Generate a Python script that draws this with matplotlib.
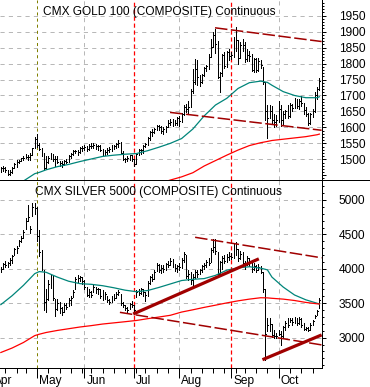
import numpy as np
import pandas as pd
import matplotlib
matplotlib.use("Agg")
import matplotlib.pyplot as plt
from matplotlib.lines import Line2D
from matplotlib.ticker import FixedLocator, FixedFormatter, NullFormatter

plt.rcParams['font.family'] = ['Liberation Sans', 'DejaVu Sans']
plt.rcParams['lines.scale_dashes'] = False

# ---------------- data ----------------
holidays = ['2011-04-22', '2011-05-30', '2011-07-04', '2011-09-05']
start_date, end_date = '2011-04-07', '2011-10-27'

gold_title = "CMX GOLD 100 (COMPOSITE) Continuous"
silver_title = "CMX SILVER 5000 (COMPOSITE) Continuous"
month_labels = ['Apr', 'May', 'Jun', 'Jul', 'Aug', 'Sep', 'Oct']

gold_high = [
    1476, 1478, 1476, 1468, 1465, 1476, 1487, 1497, 1497, 1505, 1509, 1518, 1512, 1520, 1536, 1570,  # Apr
    1580, 1550, 1534, 1519, 1510, 1510, 1521, 1518, 1509, 1510, 1496, 1494, 1499, 1501, 1512, 1521,
    1528, 1530, 1528, 1538, 1542,  # May
    1546, 1541, 1548, 1551, 1550, 1548, 1545, 1545, 1532, 1530, 1535, 1538, 1544, 1545, 1550, 1560,
    1555, 1526, 1505, 1509, 1514, 1512,  # Jun
    1502, 1518, 1531, 1532, 1545, 1551, 1571, 1588, 1594, 1597, 1609, 1608, 1603, 1600, 1605, 1624,
    1625, 1626, 1622, 1633,  # Jul
    1636, 1646, 1669, 1672, 1684, 1720, 1782, 1815, 1812, 1764, 1768, 1789, 1795, 1829, 1877, 1898,
    1908, 1871, 1775, 1831, 1835, 1840, 1847,  # Aug
    1836, 1884, 1914, 1875, 1868, 1876, 1866, 1846, 1840, 1830, 1816, 1817, 1816, 1812, 1790, 1743,
    1670, 1670, 1668, 1641, 1638,  # Sep
    1684, 1671, 1651, 1656, 1669, 1677, 1673, 1692, 1688, 1690, 1698, 1677, 1663, 1644, 1644, 1658,
    1710, 1726, 1756,  # Oct
]
gold_low = [
    1461, 1464, 1460, 1451, 1452, 1457, 1472, 1477, 1487, 1494, 1498, 1504, 1499, 1498, 1513, 1535,
    1540, 1528, 1509, 1465, 1469, 1490, 1501, 1496, 1478, 1488, 1479, 1477, 1482, 1487, 1493, 1505,
    1513, 1520, 1515, 1521, 1527,
    1530, 1526, 1529, 1536, 1537, 1533, 1530, 1526, 1512, 1512, 1518, 1524, 1526, 1532, 1537, 1540,
    1517, 1497, 1491, 1494, 1498, 1495,
    1480, 1484, 1512, 1516, 1520, 1539, 1546, 1561, 1574, 1581, 1591, 1591, 1582, 1578, 1587, 1600,
    1608, 1605, 1606, 1608,
    1605, 1616, 1639, 1648, 1641, 1664, 1707, 1737, 1733, 1730, 1738, 1762, 1778, 1784, 1820, 1852,
    1832, 1756, 1712, 1760, 1787, 1788, 1812,
    1813, 1822, 1840, 1798, 1818, 1839, 1806, 1809, 1808, 1777, 1775, 1772, 1776, 1785, 1735, 1623,
    1567, 1628, 1615, 1602, 1603,
    1618, 1605, 1612, 1630, 1630, 1633, 1652, 1660, 1660, 1659, 1668, 1643, 1635, 1608, 1612, 1632,
    1648, 1690, 1718,
]
gold_close = [
    1472, 1474, 1466, 1455, 1460, 1474, 1486, 1492, 1495, 1503, 1505, 1508, 1507, 1515, 1535, 1563,
    1545, 1532, 1515, 1474, 1492, 1503, 1516, 1502, 1502, 1492, 1489, 1485, 1496, 1493, 1510, 1516,
    1526, 1526, 1524, 1536, 1536,
    1539, 1533, 1542, 1543, 1545, 1541, 1541, 1529, 1516, 1524, 1529, 1531, 1539, 1541, 1547, 1551,
    1521, 1500, 1500, 1503, 1512, 1500,
    1485, 1516, 1528, 1530, 1542, 1548, 1567, 1585, 1586, 1594, 1603, 1600, 1589, 1596, 1601, 1615,
    1617, 1615, 1614, 1628,
    1621, 1643, 1664, 1658, 1663, 1713, 1743, 1784, 1759, 1742, 1765, 1785, 1792, 1822, 1852, 1891,
    1862, 1757, 1771, 1828, 1791, 1835, 1825,
    1828, 1876, 1873, 1817, 1858, 1857, 1815, 1827, 1825, 1779, 1813, 1779, 1808, 1795, 1742, 1650,
    1628, 1652, 1622, 1617, 1624,
    1659, 1624, 1642, 1650, 1635, 1670, 1662, 1683, 1666, 1683, 1676, 1653, 1641, 1615, 1642, 1652,
    1703, 1721, 1745,
]

silver_high = [
    4020, 4090, 4110, 4100, 4150, 4200, 4300, 4330, 4420, 4470, 4560, 4740, 4930, 4620, 4950, 4950,
    4900, 4560, 4280, 3990, 3700, 3840, 3910, 3900, 3560, 3560, 3520, 3450, 3500, 3500, 3570, 3600,
    3690, 3880, 3910, 3900, 3880,
    3840, 3740, 3700, 3680, 3760, 3740, 3720, 3700, 3690, 3660, 3610, 3560, 3610, 3630, 3660, 3690,
    3640, 3520, 3480, 3450, 3510, 3530,
    3480, 3690, 3700, 3720, 3710, 3660, 3820, 3900, 3930, 3980, 4080, 4070, 4050, 4060, 4090, 4110,
    4150, 4140, 4070, 4060,
    4090, 4150, 4250, 4200, 3990, 3960, 3920, 3990, 3980, 4000, 4060, 4090, 4130, 4150, 4300, 4430,
    4440, 4250, 4120, 4180, 4200, 4220, 4240,
    4230, 4380, 4390, 4290, 4260, 4240, 4120, 4180, 4160, 4090, 4080, 4060, 4070, 4040, 3950, 3700,
    3290, 3280, 3200, 3110, 3070,
    3110, 3100, 3170, 3240, 3280, 3280, 3290, 3300, 3290, 3300, 3280, 3210, 3160, 3160, 3210, 3260,
    3330, 3400, 3570,
]
silver_low = [
    3960, 4000, 4030, 4020, 4060, 4090, 4200, 4230, 4330, 4390, 4450, 4580, 4700, 4516, 4760, 4800,
    4400, 4180, 3980, 3400, 3380, 3550, 3720, 3540, 3310, 3400, 3360, 3330, 3380, 3410, 3460, 3480,
    3590, 3700, 3810, 3820, 3780,
    3700, 3600, 3590, 3590, 3660, 3650, 3640, 3580, 3550, 3560, 3520, 3490, 3520, 3540, 3580, 3620,
    3480, 3440, 3400, 3370, 3420, 3440,
    3340, 3590, 3620, 3640, 3600, 3530, 3600, 3780, 3820, 3850, 3970, 3950, 3940, 3950, 3990, 4020,
    4050, 4030, 3970, 3960,
    3980, 4010, 4100, 3860, 3840, 3780, 3740, 3860, 3880, 3920, 3960, 4000, 4020, 4050, 4100, 4250,
    4220, 3890, 3930, 4000, 4090, 4100, 4130,
    4140, 4160, 4200, 4120, 4140, 4060, 4000, 4060, 4040, 3960, 3980, 3950, 3980, 3940, 3660, 2680,
    3090, 3100, 3010, 2990, 2990,
    3040, 2890, 3010, 3110, 3160, 3230, 3190, 3210, 3190, 3200, 3160, 3110, 3110, 3090, 3110, 3190,
    3280, 3330, 3430,
]
silver_close = [
    4000, 4070, 4060, 4080, 4130, 4180, 4290, 4300, 4400, 4450, 4540, 4700, 4750, 4580, 4900, 4880,
    4480, 4250, 4020, 3520, 3560, 3780, 3880, 3580, 3420, 3500, 3430, 3370, 3480, 3450, 3550, 3580,
    3670, 3850, 3860, 3880, 3820,
    3730, 3620, 3660, 3620, 3740, 3700, 3700, 3600, 3580, 3640, 3540, 3520, 3590, 3580, 3640, 3660,
    3500, 3470, 3430, 3400, 3490, 3480,
    3400, 3660, 3650, 3700, 3660, 3620, 3790, 3880, 3850, 3960, 4060, 3990, 4010, 4000, 4070, 4060,
    4120, 4050, 4010, 4040,
    4020, 4130, 4210, 3900, 3920, 3840, 3880, 3960, 3930, 3980, 4040, 4050, 4100, 4080, 4270, 4320,
    4260, 3920, 4100, 4150, 4120, 4170, 4180,
    4170, 4340, 4290, 4160, 4220, 4080, 4090, 4150, 4100, 4000, 4040, 3990, 4030, 3960, 3700, 3050,
    3180, 3200, 3040, 3020, 3020,
    3060, 3030, 3150, 3220, 3180, 3250, 3230, 3260, 3220, 3270, 3180, 3130, 3140, 3110, 3180, 3240,
    3320, 3390, 3540,
]

# moving averages, sampled every few trading days (index into trading days)
ma_idx = [0, 5, 10, 15, 17, 20, 25, 30, 35, 40, 45, 50, 55, 60, 65, 70, 75, 80, 85, 90, 95,
          100, 105, 110, 115, 118, 120, 125, 130, 135, 140, 141]
gold_ma50 = [1380, 1405, 1432, 1455, 1459, 1467, 1477, 1484, 1493, 1501, 1509, 1513, 1516, 1518,
             1527, 1538, 1550, 1565, 1595, 1636, 1670, 1691, 1722, 1740, 1745, 1741, 1732, 1712,
             1700, 1693, 1693, 1696]
gold_ma200 = [1320, 1330, 1340, 1350, 1354, 1360, 1370, 1380, 1390, 1400, 1405, 1410, 1415, 1418,
              1421, 1424, 1435, 1445, 1458, 1479, 1496, 1513, 1529, 1543, 1552, 1556, 1559, 1563,
              1567, 1571, 1577, 1579]
silver_ma50 = [3480, 3610, 3760, 3930, 3960, 3950, 3880, 3820, 3785, 3775, 3755, 3725, 3690, 3668,
               3685, 3730, 3780, 3830, 3848, 3858, 3905, 3980, 4015, 4030, 4010, 3985, 3880, 3735,
               3620, 3550, 3500, 3490]
silver_ma200 = [2785, 2850, 2930, 3030, 3050, 3075, 3105, 3130, 3155, 3175, 3198, 3215, 3232, 3250,
                3276, 3300, 3325, 3372, 3405, 3440, 3472, 3505, 3535, 3560, 3580, 3578, 3572, 3560,
                3540, 3512, 3492, 3489]

# hand-drawn trend lines: (trading-day index pairs, price pairs)
gold_upper_x, gold_upper_y = [94.8, 142.0], [1912, 1869]
gold_lower_x, gold_lower_y = [74.9, 142.0], [1647, 1591]
silver_upper_x, silver_upper_y = [86.0, 142.0], [4458, 4160]
silver_lowdash_x, silver_lowdash_y = [52.7, 142.0], [3368, 2895]
silver_thick1_x, silver_thick1_y = [58.6, 114.2], [3344, 4145]
silver_thick2_x, silver_thick2_y = [115.8, 142.0], [2680, 3040]

# ---------------- layout ----------------
W, H = 370, 387
fig = plt.figure(figsize=(W / 100, H / 100), dpi=100)
right_px, sep_px, bot_px = 321.7, 180.0, 367.7
ax1 = fig.add_axes([0, 1 - sep_px / H, right_px / W, sep_px / H])
ax2 = fig.add_axes([0, 1 - bot_px / H, right_px / W, (bot_px - sep_px) / H])

dates = pd.bdate_range(start_date, end_date)
dates = dates[~dates.isin(pd.to_datetime(holidays))]
x = np.arange(len(dates))

mstart = [i for i in range(1, len(dates)) if dates[i].month != dates[i - 1].month]
apr_pos = -int(np.busday_count('2011-04-01', start_date))
month_pos = [apr_pos] + mstart
week_pos = [i for i in range(1, len(dates)) if dates[i].dayofweek < dates[i - 1].dayofweek]

XL = (-0.376, 142.03)
BLACK = '#000000'
TEAL = '#00857a'
RED = '#ff0000'
DRED = '#a00000'
GRID = '#b8b8b8'
OLIVE = '#808000'
FS = 8.6
PX = 0.72  # one pixel in points

def style(ax, ylim, majors, labeled, minor):
    ax.set_xlim(*XL)
    ax.set_ylim(*ylim)
    for s in ['left', 'top', 'bottom']:
        ax.spines[s].set_visible(False)
    ax.spines['right'].set_linewidth(PX)
    ax.yaxis.tick_right()
    ax.yaxis.set_major_locator(FixedLocator(majors))
    ax.yaxis.set_major_formatter(FixedFormatter([str(v) if v in labeled else '' for v in majors]))
    ax.yaxis.set_minor_locator(FixedLocator(minor))
    ax.tick_params(axis='y', which='major', length=3.0, width=PX, pad=9.2,
                   labelsize=FS, colors=BLACK)
    ax.tick_params(axis='y', which='minor', length=1.5, width=PX)
    for v in labeled:
        ax.axhline(v, color=GRID, lw=PX, dashes=(3, 3), zorder=1)
    for i, p in enumerate(month_pos):
        name = month_labels[i]
        if name in ('Jun', 'Aug', 'Oct'):
            ax.axvline(p, color=GRID, lw=PX, dashes=(3, 3), zorder=1)
        elif name == 'May':
            ax.axvline(p, color=OLIVE, lw=PX, dashes=(2.2, 2.2), zorder=2)
        elif name in ('Jul', 'Sep'):
            ax.axvline(p, color=RED, lw=0.9, dashes=(3, 2), zorder=2)

def bars(ax, hi, lo, cl):
    ax.vlines(x, lo, hi, color=BLACK, lw=PX, antialiased=False, zorder=3)
    ax.hlines(cl, x, x + 0.42, color=BLACK, lw=PX, antialiased=False, zorder=3)

# top panel: gold
style(ax1, (1435.2, 1999.1), list(range(1450, 2001, 50)), list(range(1500, 1951, 50)),
      list(range(1440, 2000, 10)))
ax1.set_xticks([])
bars(ax1, gold_high, gold_low, gold_close)
ax1.plot(ma_idx, gold_ma50, color=TEAL, lw=0.9, zorder=4)
ax1.plot(ma_idx, gold_ma200, color=RED, lw=0.9, zorder=4)
ax1.plot(gold_upper_x, gold_upper_y, color=DRED, lw=1.1, dashes=(9, 2.5), zorder=5)
ax1.plot(gold_lower_x, gold_lower_y, color=DRED, lw=1.1, dashes=(9, 2.5), zorder=5)

# bottom panel: silver
style(ax2, (2564, 5290), [3000, 3500, 4000, 4500, 5000], [3000, 3500, 4000, 4500, 5000],
      list(range(2600, 5300, 100)))
bars(ax2, silver_high, silver_low, silver_close)
ax2.plot(ma_idx, silver_ma50, color=TEAL, lw=0.9, zorder=4)
ax2.plot(ma_idx, silver_ma200, color=RED, lw=0.9, zorder=4)
ax2.plot(silver_upper_x, silver_upper_y, color=DRED, lw=1.1, dashes=(9, 2.5), zorder=5)
ax2.plot(silver_lowdash_x, silver_lowdash_y, color=DRED, lw=1.1, dashes=(9, 2.5), zorder=5)
ax2.plot(silver_thick1_x, silver_thick1_y, color=DRED, lw=2.3, solid_capstyle='butt', zorder=6)
ax2.plot(silver_thick2_x, silver_thick2_y, color=DRED, lw=2.3, solid_capstyle='butt', zorder=6)

ax2.spines['bottom'].set_visible(True)
ax2.spines['bottom'].set_linewidth(PX)
ax2.xaxis.set_major_locator(FixedLocator(month_pos))
ax2.xaxis.set_major_formatter(NullFormatter())
ax2.xaxis.set_minor_locator(FixedLocator(week_pos))
ax2.tick_params(axis='x', which='major', length=7.2, width=PX)
ax2.tick_params(axis='x', which='minor', length=3.6, width=PX)
for p, name in zip(month_pos, month_labels):
    ax2.annotate(name, xy=(p, 0), xycoords=('data', 'axes fraction'),
                 xytext=(1.5, -12.0), textcoords='offset points',
                 ha='left', va='baseline', fontsize=FS, color=BLACK, annotation_clip=False)

# separator line across full width
fig.add_artist(Line2D([0, 1], [1 - sep_px / H] * 2, transform=fig.transFigure,
                      color=BLACK, lw=PX))

# panel titles
fig.text(43.3 / W, 1 - 15.0 / H, gold_title, ha='left', va='baseline', fontsize=FS, color=BLACK)
fig.text(35.0 / W, 1 - 195.3 / H, silver_title, ha='left', va='baseline', fontsize=FS, color=BLACK)

fig.savefig('out.png', dpi=100)
